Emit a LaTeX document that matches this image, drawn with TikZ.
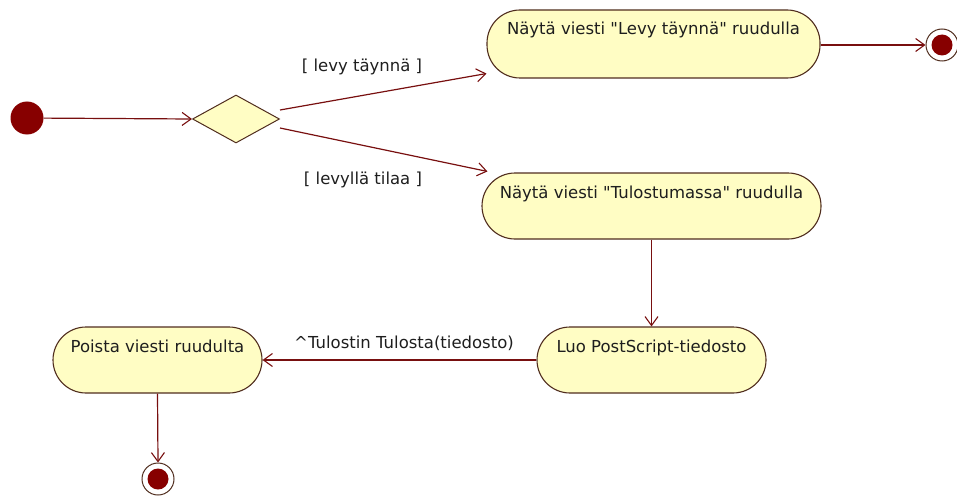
\documentclass[tikz,border=0pt]{standalone}
\usepackage{fontspec}
\setmainfont{DejaVu Sans}
\usetikzlibrary{arrows.meta,shapes.geometric,calc}

\definecolor{flowline}{RGB}{120,15,15}
\definecolor{boxedge}{RGB}{80,45,30}
\definecolor{boxfill}{RGB}{255,253,196}
\definecolor{statefill}{RGB}{135,0,0}
\definecolor{labeltext}{RGB}{30,30,30}

\tikzset{
  txt/.style={font=\fontsize{16.5}{20}\selectfont, text=labeltext},
  action/.style={txt, draw=boxedge, line width=1.1pt, fill=boxfill,
    rectangle, rounded corners=33pt, inner sep=0pt, text height=25pt},
  startstate/.style={circle, fill=statefill, minimum size=33pt, inner sep=0pt},
  endstate/.style={circle, draw=boxedge, line width=1pt, fill=white,
    minimum size=32pt, inner sep=0pt,
    path picture={\fill[statefill] (path picture bounding box.center) circle (10.5pt);}},
  choice/.style={diamond, draw=boxedge, line width=1pt, fill=boxfill,
    minimum width=87pt, minimum height=48pt, inner sep=0pt},
  flow/.style={draw=flowline, line width=1.2pt,
    -{Straight Barb[length=9pt,width=13pt,line width=1.1pt]}},
  guard/.style={txt}
}
\newcommand{\dq}{\textquotedbl}

\begin{document}
\begin{tikzpicture}[x=1pt, y=-1pt]
  \useasboundingbox (0,0) rectangle (957,500);

  % states and decision
  \node[startstate] (start) at (27,118) {};
  \node[choice] (dec) at (236,119) {};
  \node[action, minimum width=333pt, text depth=43pt] (full) at (653.5,44)
    {Näytä viesti \dq Levy täynnä\dq{} ruudulla};
  \node[endstate] (endA) at (942,45) {};
  \node[action, minimum width=339pt, text depth=41pt] (busy) at (651.5,206)
    {Näytä viesti \dq Tulostumassa\dq{} ruudulla};
  \node[action, minimum width=229pt, text depth=41pt] (ps) at (651.5,360)
    {Luo PostScript-tiedosto};
  \node[action, minimum width=209pt, text depth=41pt] (clear) at (157.5,360)
    {Poista viesti ruudulta};
  \node[endstate] (endB) at (158,479) {};

  % transitions
  \draw[flow] (start) -- (dec.west);
  \draw[flow] ($(dec.east)+(0,-9)$) -- ($(full.south west)+(0,-5)$);
  \draw[flow] ($(dec.east)+(0,9)$) -- ($(busy.north west)+(6,-1)$);
  \draw[flow] (full.east |- endA.west) -- (endA.west);
  \draw[flow] (busy.south) -- (ps.north);
  \draw[flow] (ps.west) -- (clear.east);
  \draw[flow] (clear.south) -- (endB.north);

  % guards and event
  \node[guard] (g1) at (362,67) {[ levy täynnä ]};
  \node[guard] (g2) at (363,180) {[ levyllä tilaa ]};
  \node[guard] (ev) at (404,343) {\textasciicircum Tulostin Tulosta(tiedosto)};
\end{tikzpicture}
\end{document}
